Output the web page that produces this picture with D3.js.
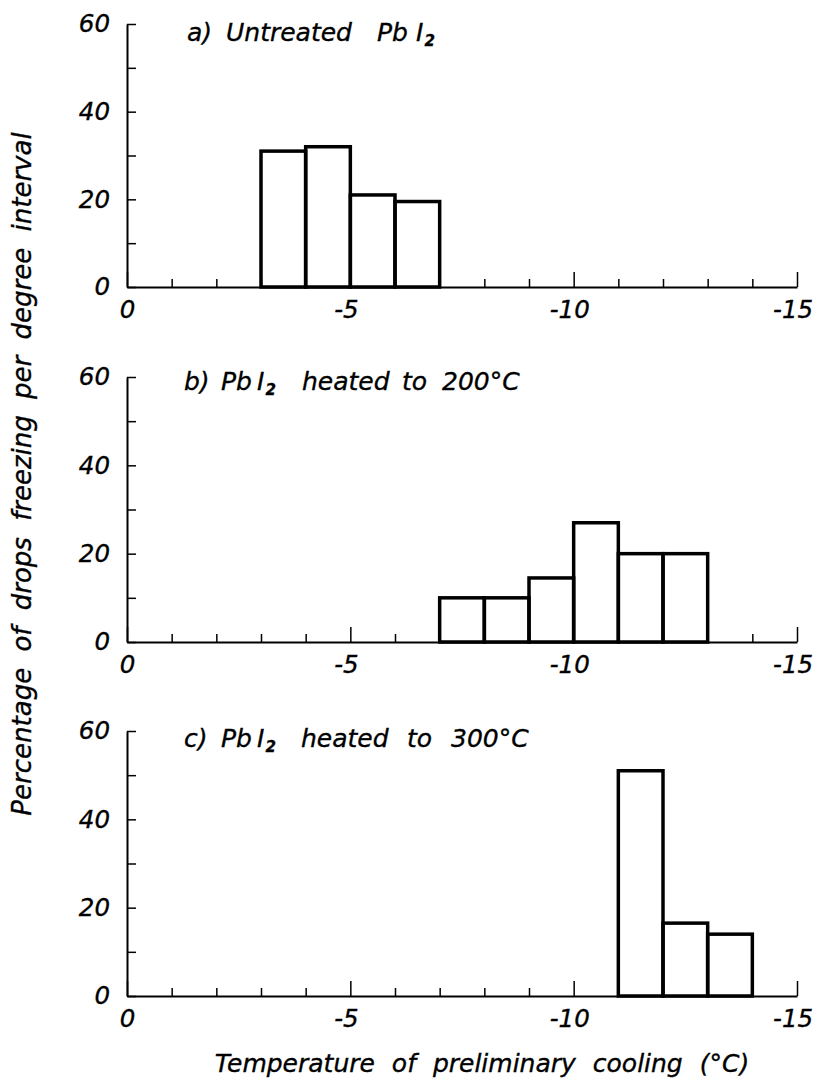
<!DOCTYPE html>
<html>
<head>
<meta charset="utf-8">
<script src="https://cdn.jsdelivr.net/npm/d3@7"></script>
<style>
body { margin: 0; background: #fff; }
svg text { font-family: "DejaVu Sans", sans-serif; font-style: italic; fill: #000; stroke: #000; stroke-width: 0.35px; }
</style>
</head>
<body>
<svg id="chart" width="819" height="1080"></svg>
<script>
// bin start temperature (every bin is 1 degree wide) and percentage of drops
const untreatedBins = [-3, -4, -5, -6];
const untreatedValues = [31, 32, 21, 19.5];
const heated200Bins = [-7, -8, -9, -10, -11, -12];
const heated200Values = [10, 10, 14.5, 27, 20, 20];
const heated300Bins = [-11, -12, -13];
const heated300Values = [51, 16.5, 14];

// tick values
const xTicks = d3.range(0, -16, -1);
const xLabelTicks = [0, -5, -10, -15];
const yTicks = [0, 10, 20, 30, 40, 50, 60];
const yLabelTicks = [0, 20, 40, 60];

// panel titles, word by word
const titleA = [{t: 'a)', x: 187}, {t: 'Untreated', x: 226}, {t: 'Pb', x: 377}, {t: 'I', x: 416, sub: '2'}];
const titleB = [{t: 'b)', x: 184}, {t: 'Pb', x: 221}, {t: 'I', x: 257, sub: '2'}, {t: 'heated', x: 302}, {t: 'to', x: 402}, {t: '200°C', x: 442}];
const titleC = [{t: 'c)', x: 184}, {t: 'Pb', x: 221}, {t: 'I', x: 257, sub: '2'}, {t: 'heated', x: 301}, {t: 'to', x: 407}, {t: '300°C', x: 451}];

const panels = [
	{bins: untreatedBins, values: untreatedValues, top: 24, zero: 287, title: titleA, titleY: 41},
	{bins: heated200Bins, values: heated200Values, top: 377, zero: 642, title: titleB, titleY: 390},
	{bins: heated300Bins, values: heated300Values, top: 731, zero: 996, title: titleC, titleY: 747}
];

const svg = d3.select('#chart');
const x = d3.scaleLinear().domain([0, -15]).range([127, 797]);

function drawPanel(p) {
	const y = d3.scaleLinear().domain([0, 60]).range([p.zero, p.top]);
	const g = svg.append('g');

	// x axis, ticks point up into the plot
	const xAxis = d3.axisBottom(x)
		.tickValues(xTicks)
		.tickSizeInner(-8)
		.tickSizeOuter(0)
		.tickPadding(14)
		.tickFormat(d => xLabelTicks.includes(d) ? (d === 0 ? '0' : '-' + Math.abs(d)) : '');
	const gx = g.append('g')
		.attr('transform', `translate(0,${p.zero})`)
		.call(xAxis)
		.attr('font-size', 24.5)
		.attr('font-family', null);
	gx.select('.domain').attr('stroke-width', 2);
	gx.selectAll('.tick line').attr('stroke-width', 1.5)
		.filter(d => d % 5 === 0).attr('y2', -15);
	gx.selectAll('.tick text').attr('dx', d => d < 0 ? '-0.18em' : 0);

	// y axis, ticks point right
	const yAxis = d3.axisLeft(y)
		.tickValues(yTicks)
		.tickSizeInner(-9)
		.tickSizeOuter(0)
		.tickPadding(17)
		.tickFormat(d => yLabelTicks.includes(d) ? d : '');
	const gy = g.append('g')
		.attr('transform', `translate(${x(0)},0)`)
		.call(yAxis)
		.attr('font-size', 24.5)
		.attr('font-family', null);
	gy.select('.domain').attr('stroke-width', 2);
	gy.selectAll('.tick line').attr('stroke-width', 1.5);

	// histogram bars
	const data = p.bins.map((b, i) => ({start: b, value: p.values[i]}));
	g.append('g')
		.selectAll('rect').data(data).join('rect')
		.attr('x', d => x(d.start))
		.attr('width', d => x(d.start - 1) - x(d.start))
		.attr('y', d => y(d.value))
		.attr('height', d => y(0) - y(d.value))
		.attr('fill', 'none')
		.attr('stroke', '#000')
		.attr('stroke-width', 3.5);

	// title
	const title = g.append('text').attr('y', p.titleY).attr('font-size', 25);
	p.title.forEach(w => {
		title.append('tspan').attr('x', w.x).attr('y', p.titleY).text(w.t);
		if (w.sub) {
			title.append('tspan')
				.attr('dx', 1)
				.attr('y', p.titleY + 5)
				.attr('font-size', 15)
				.attr('font-weight', 'bold')
				.text(w.sub);
		}
	});
}

panels.forEach(drawPanel);

// axis titles
svg.append('text')
	.attr('x', 482)
	.attr('y', 1072)
	.attr('text-anchor', 'middle')
	.attr('font-size', 25)
	.attr('word-spacing', 9)
	.text('Temperature of preliminary cooling (°C)');

svg.append('text')
	.attr('transform', 'translate(31,474) rotate(-90)')
	.attr('text-anchor', 'middle')
	.attr('font-size', 26)
	.attr('word-spacing', 8)
	.text('Percentage of drops freezing per degree interval');
</script>
</body>
</html>
